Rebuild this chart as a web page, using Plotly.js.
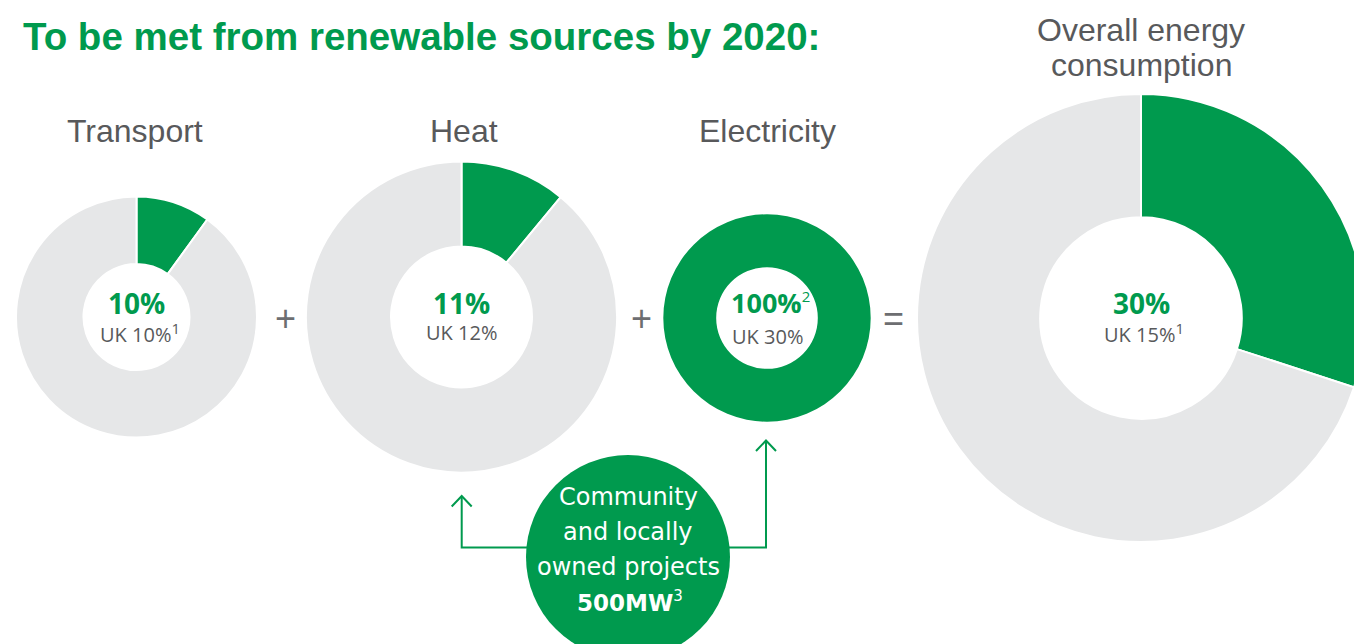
<!DOCTYPE html>
<html>
<head>
<meta charset="utf-8">
<script src="https://cdn.plot.ly/plotly-3.0.1.min.js"></script>
<style>
  html, body { margin: 0; padding: 0; background: #fff; overflow: hidden; }
  #chart { width: 1380px; height: 644px; }
</style>
</head>
<body>
<div id="chart"></div>
<script>
// ---- data ----
const chartTitle = 'To be met from renewable sources by 2020:';
const categories = ['Transport', 'Heat', 'Electricity', 'Overall energy<br>consumption'];
const renewableTarget = [10, 11, 100, 30];       // % to be met from renewables
const ukTarget = [10, 12, 30, 15];                // UK comparison %
const targetNote = ['', '', '2', ''];
const ukNote = ['1', '', '', '1'];
const operators = ['+', '+', '='];
const communityLines = ['Community', 'and locally', 'owned projects'];
const communityMW = 500;
const communityNote = '3';

// ---- layout config (pixels) ----
const W = 1380, H = 644;
const GREEN = '#009a4e', GREY = '#e6e7e8', TEXT = '#58595b';
const centers = [[136.5, 317], [461.5, 317], [767, 318], [1141, 318]];
const radii = [120.5, 155.6, 103.7, 224];
const holes = [0.44, 0.453, 0.49, 0.45];
const px = x => x / W;
const py = y => 1 - y / H;
const sup = (t, size) => t ? '<sup><span style="font-size:' + size + 'px">' + t + '</span></sup>' : '';

const traces = categories.map((c, i) => {
  const [cx, cy] = centers[i], r = radii[i];
  return {
    type: 'pie',
    name: c,
    values: [renewableTarget[i], 100 - renewableTarget[i]],
    labels: ['Renewable', 'Other'],
    marker: { colors: [GREEN, GREY], line: { color: '#ffffff', width: renewableTarget[i] >= 100 ? 0 : 2 } },
    hole: holes[i],
    sort: false,
    direction: 'clockwise',
    rotation: 0,
    textinfo: 'none',
    hoverinfo: 'none',
    showlegend: false,
    domain: { x: [px(cx - r), px(cx + r)], y: [py(cy + r), py(cy - r)] }
  };
});

const ann = [];
function addText(text, x, y, size, color, family, opts) {
  ann.push(Object.assign({
    text: text, x: px(x), y: py(y), xref: 'paper', yref: 'paper',
    showarrow: false, xanchor: 'center', yanchor: 'middle',
    font: { size: size, color: color, family: family }
  }, opts || {}));
}

// main title
addText('<b>' + chartTitle + '</b>', 21, 37, 38.5, GREEN, 'Liberation Sans', { xanchor: 'left' });

// category titles
categories.forEach((c, i) => {
  if (i < 3) {
    addText(c, centers[i][0] - (i === 0 ? 2 : 0) + (i === 1 ? 2 : 0), 131, 32, TEXT, 'Liberation Sans');
  } else {
    const parts = c.split('<br>');
    addText(parts[0], centers[i][0], 30, 32, TEXT, 'Liberation Sans');
    addText(parts[1], centers[i][0], 65, 32, TEXT, 'Liberation Sans');
  }
});

// center labels
categories.forEach((c, i) => {
  const [cx, cy] = centers[i];
  const big = '<b>' + renewableTarget[i] + '%</b>' + sup(targetNote[i], 15);
  const small = 'UK ' + ukTarget[i] + '%' + sup(ukNote[i], 15);
  const hasBigNote = !!targetNote[i];
  addText(big, cx + (hasBigNote ? 3 : 0), hasBigNote ? 302 : 303, hasBigNote ? 27 : 28, GREEN, 'Open Sans');
  addText(small, cx + (ukNote[i] ? 3 : 0), hasBigNote ? 336 : 333, 20, TEXT, 'Open Sans');
});

// operators
const opX = [285, 641, 893];
operators.forEach((o, i) => addText(o, opX[i], 318, 36, '#6d6e71', 'Liberation Sans'));

// community circle text
const circleC = [628, 557], circleR = 102;
const lineY = [497, 532, 567];
communityLines.forEach((t, i) => addText(t, circleC[0], lineY[i], 24, '#ffffff', 'DejaVu Sans'));
addText('<b>' + communityMW + 'MW</b>' + sup(communityNote, 15), circleC[0] + 2, 601, 23, '#ffffff', 'DejaVu Sans');

// arrows and circle
const shapes = [];
function path(pts) {
  return pts.map((p, k) => (k ? 'L' : 'M') + px(p[0]).toFixed(5) + ',' + py(p[1]).toFixed(5)).join(' ');
}
const arrowStyle = { color: GREEN, width: 2 };
shapes.push({ type: 'path', xref: 'paper', yref: 'paper', path: path([[circleC[0], 547.5], [461.7, 547.5], [461.7, 496]]), line: arrowStyle });
shapes.push({ type: 'path', xref: 'paper', yref: 'paper', path: path([[451.7, 506.5], [461.7, 496], [471.7, 506.5]]), line: arrowStyle });
shapes.push({ type: 'path', xref: 'paper', yref: 'paper', path: path([[circleC[0], 547.5], [766, 547.5], [766, 440.5]]), line: arrowStyle });
shapes.push({ type: 'path', xref: 'paper', yref: 'paper', path: path([[756, 451], [766, 440.5], [776, 451]]), line: arrowStyle });
shapes.push({ type: 'circle', xref: 'paper', yref: 'paper',
  x0: px(circleC[0] - circleR), x1: px(circleC[0] + circleR),
  y0: py(circleC[1] + circleR), y1: py(circleC[1] - circleR),
  fillcolor: GREEN, line: { width: 0 } });

const layout = {
  width: W, height: H,
  margin: { l: 0, r: 0, t: 0, b: 0, pad: 0 },
  paper_bgcolor: '#ffffff', plot_bgcolor: '#ffffff',
  showlegend: false,
  annotations: ann,
  shapes: shapes
};

Plotly.newPlot('chart', traces, layout, { displayModeBar: false, staticPlot: true, responsive: false });
</script>
</body>
</html>
